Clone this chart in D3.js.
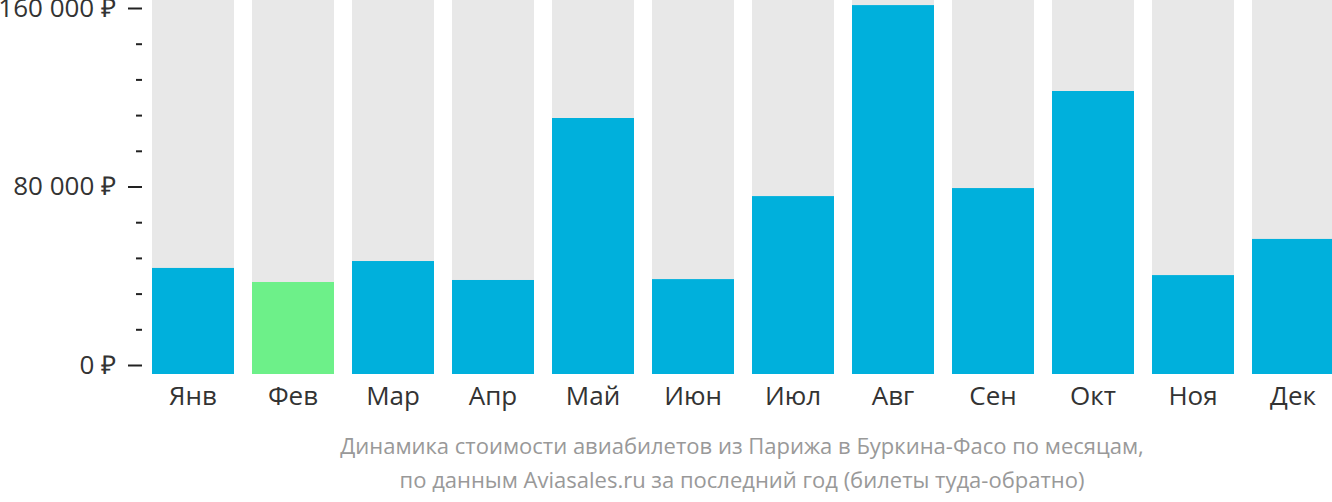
<!DOCTYPE html>
<html>
<head>
<meta charset="utf-8">
<script src="https://cdn.jsdelivr.net/npm/d3@7"></script>
<style>
  body { margin: 0; background: #fff; }
  svg text { font-family: "Open Sans", sans-serif; }
</style>
</head>
<body>
<figure id="bar" style="margin:0"></figure>
<script>
// data
const months = ["Янв", "Фев", "Мар", "Апр", "Май", "Июн", "Июл", "Авг", "Сен", "Окт", "Ноя", "Дек"];
const prices = [43500, 37200, 46600, 38100, 110700, 38500, 75700, 161300, 79300, 122800, 40300, 56500];
const cheapest = "Фев";
const majorTicks = [0, 80000, 160000];
const minorTicks = [16000, 32000, 48000, 64000, 96000, 112000, 128000, 144000];
const caption = [
  "Динамика стоимости авиабилетов из Парижа в Буркина-Фасо по месяцам,",
  "по данным Aviasales.ru за последний год (билеты туда-обратно)"
];

const width = 1332, height = 502;
const plotBottom = 374;

const svg = d3.select("figure#bar")
  .append("svg")
  .attr("width", width)
  .attr("height", height);

const x = d3.scaleBand()
  .domain(months)
  .range([152, 1334])
  .paddingInner(0.18)
  .paddingOuter(0);

const y = d3.scaleLinear()
  .domain([0, 160000])
  .range([365, 8]);

// background columns
svg.selectAll("rect.bg")
  .data(months)
  .enter()
  .append("rect")
  .attr("class", "bg")
  .attr("x", d => x(d))
  .attr("y", 0)
  .attr("width", x.bandwidth())
  .attr("height", plotBottom)
  .attr("fill", "#e8e8e8");

// price bars
svg.selectAll("rect.val")
  .data(months)
  .enter()
  .append("rect")
  .attr("class", "val")
  .attr("x", d => x(d))
  .attr("y", (d, i) => y(prices[i]))
  .attr("width", x.bandwidth())
  .attr("height", (d, i) => plotBottom - y(prices[i]))
  .attr("fill", d => d === cheapest ? "#6df089" : "#00b0dc");

// Y axis: major ticks with labels
const fmt = v => d3.format(",")(v).replace(/,/g, "\u00a0") + "\u00a0₽";
const yMajor = svg.append("g")
  .attr("transform", "translate(142,0)")
  .call(d3.axisLeft(y).tickValues(majorTicks).tickSize(14).tickPadding(12).tickFormat(fmt));
yMajor.select(".domain").remove();
yMajor.selectAll("line").attr("stroke", "#222").attr("stroke-width", 2);
yMajor.selectAll("text")
  .attr("fill", "#333")
  .style("font-size", "26px");

// Y axis: minor ticks
const yMinor = svg.append("g")
  .attr("transform", "translate(142,0)")
  .call(d3.axisLeft(y).tickValues(minorTicks).tickSize(6).tickFormat(""));
yMinor.select(".domain").remove();
yMinor.selectAll("line").attr("stroke", "#222").attr("stroke-width", 2);

// month labels
const xAxis = svg.append("g")
  .attr("transform", "translate(0," + plotBottom + ")")
  .call(d3.axisBottom(x).tickSize(0).tickPadding(13));
xAxis.select(".domain").remove();
xAxis.selectAll("text")
  .attr("fill", "#333")
  .style("font-size", "26px");

// caption
svg.selectAll("text.caption")
  .data(caption)
  .enter()
  .append("text")
  .attr("class", "caption")
  .attr("x", 742)
  .attr("y", (d, i) => 454 + i * 34)
  .attr("text-anchor", "middle")
  .attr("fill", "#999")
  .style("font-size", "22px")
  .text(d => d);
</script>
</body>
</html>
